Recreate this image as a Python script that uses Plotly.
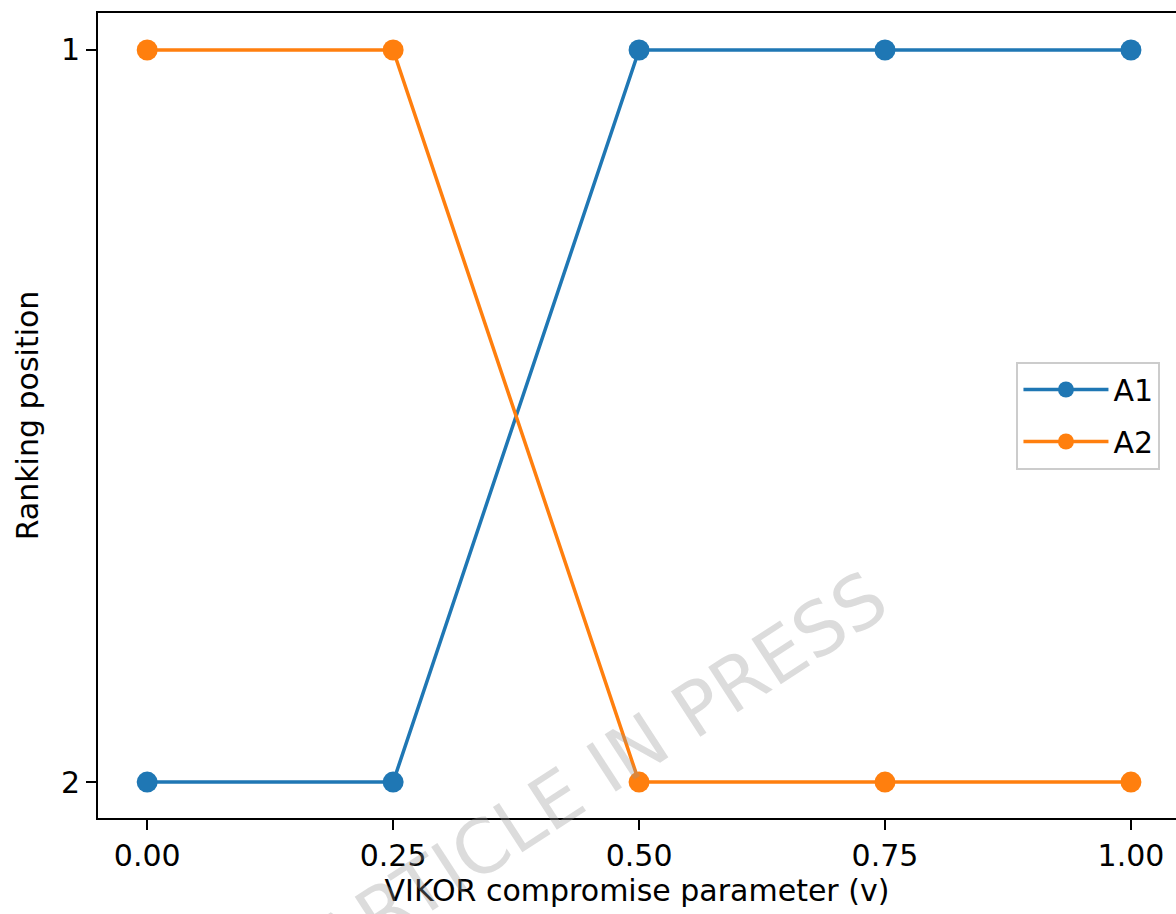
import plotly.graph_objects as go

v_values = [0.0, 0.25, 0.5, 0.75, 1.0]
a1_rank = [2, 2, 1, 1, 1]
a2_rank = [1, 1, 2, 2, 2]
x_ticks = [0.0, 0.25, 0.5, 0.75, 1.0]
x_tick_labels = ["0.00", "0.25", "0.50", "0.75", "1.00"]
y_ticks = [1, 2]
y_tick_labels = ["1", "2"]

FONT = "DejaVu Sans, Verdana, sans-serif"

fig = go.Figure()
fig.add_trace(go.Scatter(x=v_values, y=a1_rank, mode="lines+markers", name="A1",
                         legendgroup="a1",
                         line=dict(color="#1f77b4", width=3.5),
                         marker=dict(size=21, color="#1f77b4")))
fig.add_trace(go.Scatter(x=v_values, y=a2_rank, mode="lines+markers", name="A2",
                         legendgroup="a2",
                         line=dict(color="#ff7f0e", width=3.5),
                         marker=dict(size=21, color="#ff7f0e")))

axis_common = dict(showgrid=False, zeroline=False, showline=True, linecolor="black",
                   linewidth=2, ticks="outside", ticklen=10, tickwidth=2,
                   tickcolor="black", automargin=False,
                   tickfont=dict(family=FONT, size=30, color="black"))

fig.update_xaxes(range=[-0.05, 1.0458], tickvals=x_ticks, ticktext=x_tick_labels, mirror=True,
                 title=dict(text="VIKOR compromise parameter (v)", font=dict(family=FONT, size=30, color="black"), standoff=6),
                 **axis_common)
fig.update_yaxes(range=[2.049, 0.9495], tickvals=y_ticks, ticktext=y_tick_labels, mirror=False,
                 title=dict(text="Ranking position", font=dict(family=FONT, size=30, color="black"), standoff=13),
                 **axis_common)

fig.add_annotation(text="ARTICLE IN PRESS", x=0.46, y=1.985, xref="x", yref="y",
                   showarrow=False, textangle=-33,
                   font=dict(family=FONT, size=74, color="rgba(150,150,150,0.33)"))

fig.update_layout(
    width=1176, height=914,
    margin=dict(l=98, r=0, t=13, b=96),
    plot_bgcolor="white", paper_bgcolor="white",
    font=dict(family=FONT, size=30, color="black"),
    legend=dict(x=0.852, y=0.5, xanchor="left", yanchor="middle",
                bgcolor="white", bordercolor="#cccccc", borderwidth=2,
                tracegroupgap=10,
                font=dict(family=FONT, size=30, color="black"), itemwidth=85),
)

fig.write_html("out.html", config={"displayModeBar": False},
               post_script="document.body.style.margin='0px';document.body.style.overflow='hidden';")
